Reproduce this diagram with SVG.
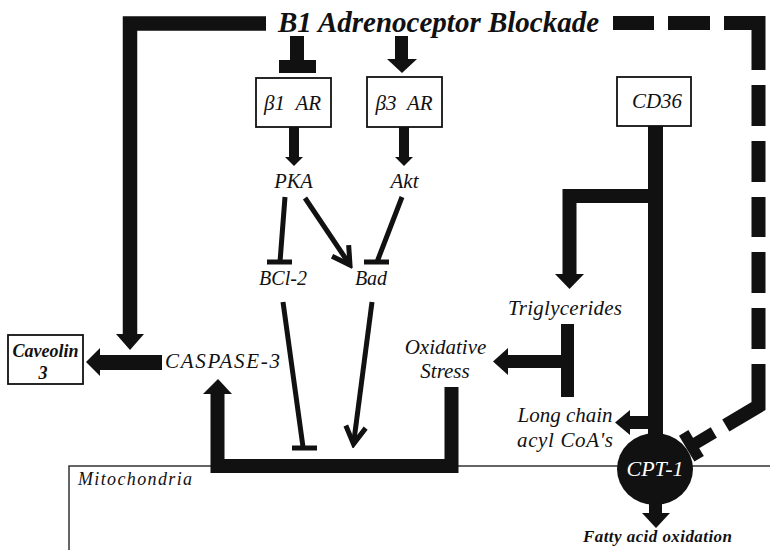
<svg xmlns="http://www.w3.org/2000/svg" width="770" height="550" viewBox="0 0 770 550">
<defs>
<style>
.t{font-family:'Liberation Serif','Times New Roman',serif;font-style:italic;fill:#111;text-anchor:middle}
.b{font-weight:bold}
.box{fill:#fff;stroke:#111;stroke-width:1.8}
.thick{fill:none;stroke:#111;stroke-linejoin:miter;stroke-linecap:butt}
.thin{fill:none;stroke:#111;stroke-width:5;stroke-linecap:butt}
.head{fill:#111}
.mito{fill:none;stroke:#333;stroke-width:1.5}
</style>
<marker id="open" viewBox="-22 -13 26 26" refX="0" refY="0" markerUnits="userSpaceOnUse" markerWidth="26" markerHeight="26" orient="auto">
<path d="M -17.3 -10 L 0 0 L -17.3 10" fill="none" stroke="#111" stroke-width="5" stroke-linejoin="miter"/>
</marker>
</defs>
<rect width="770" height="550" fill="#fff"/>

<g id="mitochondria">
<path class="mito" d="M 69 550 V 466 H 770"/>
<text class="t" x="78" y="485" font-size="18" style="text-anchor:start" textLength="114">Mitochondria</text>
</g>

<g id="connectors">
<path class="thick" stroke-width="14.5" d="M 266 23.5 H 130 V 335"/>
<polygon class="head" points="116,334 144,334 130,350"/>
<path class="thick" stroke-width="14" d="M 297 36 V 61"/>
<rect class="head" x="279" y="60" width="37" height="13"/>
<path class="thick" stroke-width="13" d="M 401.5 36 V 60"/>
<polygon class="head" points="387,59 417,59 402,73"/>
<path class="thick" stroke-width="10" d="M 294 127 V 158"/>
<polygon class="head" points="285,157 303,157 294,166"/>
<path class="thick" stroke-width="10" d="M 404 127 V 158"/>
<polygon class="head" points="395,157 413,157 404,166"/>
<path class="thin" d="M 285 197 L 280 262 M 267 262 H 292"/>
<path class="thin" d="M 305 198 L 350 265" marker-end="url(#open)"/>
<path class="thin" d="M 402 197 L 377 262 M 364 262 H 389"/>
<path class="thin" d="M 283 302 L 303 447 M 292 448 H 317"/>
<path class="thin" d="M 372 302 L 353.5 444" marker-end="url(#open)"/>
<path class="thick" stroke-width="15" d="M 162 362.5 H 99"/>
<polygon class="head" points="100,348 100,376 86,362"/>
<path class="thick" stroke-width="14" d="M 217.5 393 V 466 H 451.5 V 387"/>
<polygon class="head" points="203,394 232,394 218,379"/>
<path class="thick" stroke-width="13" d="M 567.5 324 V 397"/>
<path class="thick" stroke-width="13" d="M 567 361.5 H 507"/>
<polygon class="head" points="508,348 508,375 493,361.5"/>
<path class="thick" stroke-width="15" d="M 655.5 126 V 445"/>
<path class="thick" stroke-width="14" d="M 655 196 H 569.5 V 275"/>
<polygon class="head" points="555,274 584,274 569.5,289"/>
<path class="thick" stroke-width="13" d="M 649 422.5 H 629"/>
<polygon class="head" points="630,410 630,435 615,422.5"/>
<path class="thick" stroke-width="13" d="M 655.5 495 V 514"/>
<polygon class="head" points="642,513 670,513 656,528"/>
<path class="thick" stroke-width="14" d="M 613 23 H 654 M 668 23 H 710 M 724 23 H 758.5 V 70 M 758.5 85 V 126 M 758.5 141 V 182 M 758.5 197 V 237 M 758.5 252 V 293 M 758.5 308 V 349 M 758.5 364 V 406 L 725.8 425.4"/>
<path class="thick" stroke-width="12" d="M 713.8 432.5 L 691.4 445.8"/>
<path class="thick" stroke-width="11" d="M 683.7 432.9 L 699.1 458.7"/>
</g>

<g id="title">
<text class="t b" x="438.5" y="32" font-size="29">B1 Adrenoceptor Blockade</text>
</g>

<g id="beta1">
<rect class="box" x="256" y="78" width="75" height="49"/>
<text class="t" x="292.5" y="110" font-size="21" xml:space="preserve">β1  AR</text>
</g>

<g id="beta3">
<rect class="box" x="367" y="77" width="75" height="50"/>
<text class="t" x="404" y="110" font-size="21" xml:space="preserve">β3  AR</text>
</g>

<g id="cd36">
<rect class="box" x="617" y="77" width="74" height="49"/>
<text class="t" x="657" y="108" font-size="21">CD36</text>
</g>

<g id="pka"><text class="t" x="293.5" y="188" font-size="20.5">PKA</text></g>
<g id="akt"><text class="t" x="404.5" y="188" font-size="21">Akt</text></g>
<g id="bcl2"><text class="t" x="283" y="285" font-size="20">BCl-2</text></g>
<g id="bad"><text class="t" x="371" y="285" font-size="20">Bad</text></g>

<g id="caspase3"><text class="t" x="222.5" y="368" font-size="21" textLength="115">CASPASE-3</text></g>

<g id="caveolin3">
<rect class="box" x="8" y="335" width="75" height="49"/>
<text class="t b" x="45.5" y="357" font-size="18">Caveolin</text>
<text class="t b" x="43" y="379" font-size="18">3</text>
</g>

<g id="triglycerides"><text class="t" x="565" y="315" font-size="21" textLength="114">Triglycerides</text></g>

<g id="oxidative-stress">
<text class="t" x="445.5" y="354" font-size="21">Oxidative</text>
<text class="t" x="445" y="378" font-size="21">Stress</text>
</g>

<g id="long-chain">
<text class="t" x="565" y="422" font-size="21">Long chain</text>
<text class="t" x="565" y="447" font-size="21" textLength="96">acyl CoA's</text>
</g>

<g id="cpt1">
<ellipse cx="655" cy="469" rx="38" ry="36" fill="#111"/>
<text class="t" x="655" y="476" font-size="22" style="fill:#fff">CPT-1</text>
</g>

<g id="fatty-acid-oxidation">
<text class="t b" x="657.5" y="542" font-size="17" textLength="149">Fatty acid oxidation</text>
</g>
</svg>
